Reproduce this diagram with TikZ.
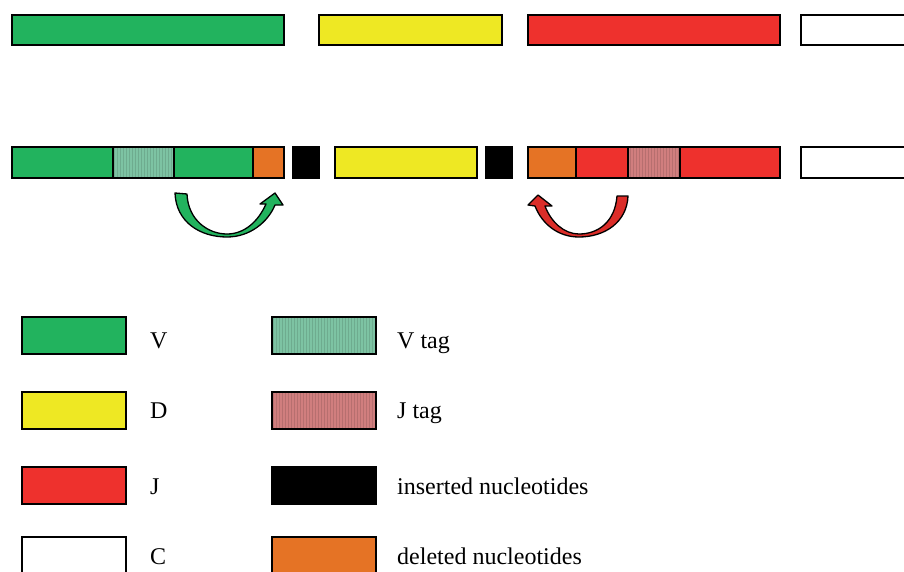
\documentclass[tikz,border=0pt]{standalone}
\usepackage{fontspec}
\setmainfont{Liberation Serif}
\usetikzlibrary{positioning,patterns}
\definecolor{vgreen}{RGB}{34,179,94}
\definecolor{dyellow}{RGB}{238,232,35}
\definecolor{jred}{RGB}{238,49,45}
\definecolor{delorange}{RGB}{229,115,37}
\definecolor{vtag}{RGB}{125,195,163}
\definecolor{jtag}{RGB}{208,126,126}
\tikzset{
  seg/.style={draw, line width=1.7pt, inner sep=0pt, outer sep=0pt, anchor=north west},
  key/.style={seg, minimum width=104pt, minimum height=37pt},
  tagfill/.style={preaction={fill=#1}, pattern=vertical lines, pattern color=#1!88!black},
  lbl/.style={inner sep=0pt, anchor=base west, font=\fontsize{24}{28}\selectfont},
  loopy/.style={line width=1.3pt, line join=round},
}
\begin{document}
\begin{tikzpicture}[x=1pt,y=-1pt]
  \useasboundingbox (0,0) rectangle (904,571);
  \clip (0,0) rectangle (904,571);
  % germline segments
  \node[seg, fill=vgreen, minimum width=272pt, minimum height=30pt] (gV) at (12,15) {};
  \node[seg, fill=dyellow, minimum width=183pt, minimum height=30pt] (gD) at (319,15) {};
  \node[seg, fill=jred, minimum width=252pt, minimum height=30pt] (gJ) at (528,15) {};
  \node[seg, fill=white, minimum width=140pt, minimum height=30pt] (gC) at (801,15) {};
  % rearranged
  \begin{scope}[every node/.append style={minimum height=31pt}]
    \node[seg, fill=vgreen, minimum width=101pt] (rV1) at (12,147) {};
    \node[seg, tagfill=vtag, minimum width=61pt] (rVt) at (rV1.north east) {};
    \node[seg, fill=vgreen, minimum width=79pt] (rV2) at (rVt.north east) {};
    \node[seg, fill=delorange, minimum width=31pt] (rVd) at (rV2.north east) {};
    \node[seg, fill=black, minimum width=26pt] (ins1) at (293,147) {};
    \node[seg, fill=dyellow, minimum width=142pt] (rD) at (335,147) {};
    \node[seg, fill=black, minimum width=26pt] (ins2) at (486,147) {};
    \node[seg, fill=delorange, minimum width=48pt] (rJd) at (528,147) {};
    \node[seg, fill=jred, minimum width=52pt] (rJ1) at (rJd.north east) {};
    \node[seg, tagfill=jtag, minimum width=52pt] (rJt) at (rJ1.north east) {};
    \node[seg, fill=jred, minimum width=100pt] (rJ2) at (rJt.north east) {};
    \node[seg, fill=white, minimum width=140pt] (rC) at (801,147) {};
  \end{scope}
  % curved arrows
  \draw[loopy, fill=vgreen] (175,193) .. controls (176,222) and (200,237) .. (227,237)
    .. controls (250,237) and (268,222) .. (275,205) -- (283,205) -- (275,193) -- (260,204) -- (266,204)
    .. controls (258,222) and (244,234) .. (227,234)
    .. controls (208,234) and (188,220) .. (187,194) -- cycle;
  \draw[loopy, fill=jred!92!black] (628,196) .. controls (627,222) and (605,237) .. (579,237)
    .. controls (558,237) and (542,224) .. (535,206) -- (528,205) -- (538,195) -- (552,206) -- (545,206)
    .. controls (551,222) and (564,234) .. (579,234)
    .. controls (598,234) and (615,222) .. (617,196) -- cycle;
  % legend
  \node[key, fill=vgreen] (kV) at (22,317) {};
  \node[key, fill=dyellow] (kD) at (22,392) {};
  \node[key, fill=jred] (kJ) at (22,467) {};
  \node[key, fill=white] (kC) at (22,537) {};
  \node[key, tagfill=vtag] (kVt) at (272,317) {};
  \node[key, tagfill=jtag] (kJt) at (272,392) {};
  \node[key, fill=black] (kIns) at (272,467) {};
  \node[key, fill=delorange] (kDel) at (272,537) {};
  \node[lbl] (tV) at (150,348) {V};
  \node[lbl] (tD) at (150,418) {D};
  \node[lbl] (tJ) at (150,494) {J};
  \node[lbl] (tC) at (150,564) {C};
  \node[lbl] (tVt) at (397,348) {V tag};
  \node[lbl] (tJt) at (397,418) {J tag};
  \node[lbl] (tIns) at (397,494) {inserted nucleotides};
  \node[lbl] (tDel) at (397,564) {deleted nucleotides};
\end{tikzpicture}
\end{document}
